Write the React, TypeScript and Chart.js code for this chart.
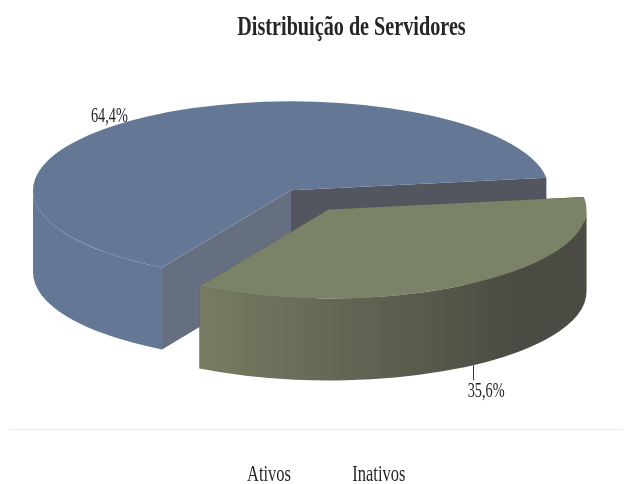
import { useEffect, useRef } from "react";
import { Chart, registerables } from "chart.js";

Chart.register(...registerables);

// Series
const categories = ["Ativos", "Inativos"];
const shares = [64.4, 35.6];
const shareLabels = ["64,4%", "35,6%"];
const chartTitle = "Distribuição de Servidores";

// Slice styling
const topColors = ["#647896", "#7a8268"];
const wallLeftColors = ["#647896", "#787c62"];
const wallRightColors = ["#647896", "#4b4a43"];
const startFaceColors = ["#656f7f", "#4b4a43"];
const endFaceColors = ["#53565f", "#4b4a43"];
const explodeDistances = [0, 67];
const labelOffsets = [
  [-37, 0],
  [13, 27],
];

// Projection of the flat pie into a tilted disc
const TILT = 0.345;
const DEPTH = 82;
const SERIF = "'Liberation Serif', serif";
const TEXT_COLOR = "#262626";
const TEXT_STRETCH = 1.4;

const explodeShift = (arc: any, index: number) => {
  const mid = (arc.startAngle + arc.endAngle) / 2;
  const d = explodeDistances[index];
  return { dx: Math.cos(mid) * d, dy: Math.sin(mid) * d * TILT };
};

const rimPoint = (arc: any, index: number, angle: number) => {
  const { dx, dy } = explodeShift(arc, index);
  return {
    x: arc.x + dx + Math.cos(angle) * arc.outerRadius,
    y: arc.y + dy + Math.sin(angle) * arc.outerRadius * TILT,
  };
};

const drawCutFace = (ctx: CanvasRenderingContext2D, arc: any, index: number, angle: number, color: string) => {
  const { dx, dy } = explodeShift(arc, index);
  const rim = rimPoint(arc, index, angle);
  ctx.beginPath();
  ctx.moveTo(arc.x + dx, arc.y + dy);
  ctx.lineTo(rim.x, rim.y);
  ctx.lineTo(rim.x, rim.y + DEPTH);
  ctx.lineTo(arc.x + dx, arc.y + dy + DEPTH);
  ctx.closePath();
  ctx.fillStyle = color;
  ctx.fill();
};

// Front-facing part of the outer wall: angles between 0 and PI (mod 2PI)
const drawOuterWall = (ctx: CanvasRenderingContext2D, arc: any, index: number) => {
  const TAU = Math.PI * 2;
  const { dx, dy } = explodeShift(arc, index);
  const cx = arc.x + dx;
  const cy = arc.y + dy;
  const rx = arc.outerRadius;
  const ry = arc.outerRadius * TILT;
  const gradient = ctx.createLinearGradient(cx - rx * 0.5, 0, cx + rx * 0.75, 0);
  gradient.addColorStop(0, wallLeftColors[index]);
  gradient.addColorStop(1, wallRightColors[index]);
  ctx.fillStyle = gradient;
  for (const turn of [0, TAU]) {
    const from = Math.max(arc.startAngle, turn);
    const to = Math.min(arc.endAngle, turn + Math.PI);
    if (to <= from) continue;
    ctx.beginPath();
    ctx.ellipse(cx, cy, rx, ry, 0, from, to);
    ctx.ellipse(cx, cy + DEPTH, rx, ry, 0, to, from, true);
    ctx.closePath();
    ctx.fill();
  }
};

const tiltedPie = {
  id: "tiltedPie",
  beforeDraw(chart: any) {
    // Title and legend are stretched vertically and moved to their slots
    const place = (box: any, shiftX: () => number, pivotY: () => number, targetY: number) => {
      if (!box || box.__placed) return;
      const draw = box.draw;
      box.__placed = true;
      box.draw = function (...args: any[]) {
        const ctx = chart.ctx;
        ctx.save();
        ctx.translate(shiftX(), targetY);
        ctx.scale(1, TEXT_STRETCH);
        ctx.translate(0, -pivotY());
        draw.apply(box, args);
        ctx.restore();
      };
    };
    const title = chart.titleBlock;
    place(
      title,
      () => 351.5 - (title.left + title.width / 2),
      () => title.top + title.height / 2,
      28,
    );
    const legend = chart.legend;
    const first = () => legend.legendHitBoxes[0];
    place(
      legend,
      () => 247 - (first().left + legend.options.labels.font.size / 2),
      () => first().top + first().height / 2,
      475,
    );
  },
  beforeDatasetDraw(chart: any, args: any) {
    const ctx = chart.ctx;
    args.meta.data.forEach((arc: any, index: number) => {
      drawCutFace(ctx, arc, index, arc.startAngle, startFaceColors[index]);
      drawCutFace(ctx, arc, index, arc.endAngle, endFaceColors[index]);
      drawOuterWall(ctx, arc, index);
      const { dx, dy } = explodeShift(arc, index);
      ctx.save();
      ctx.translate(arc.x + dx, arc.y + dy);
      ctx.scale(1, TILT);
      ctx.translate(-arc.x, -arc.y);
      arc.draw(ctx);
      ctx.restore();
    });
    return false;
  },
  afterDraw(chart: any) {
    const ctx = chart.ctx;
    const arcs = chart.getDatasetMeta(0).data;

    // Rule above the legend
    ctx.save();
    ctx.strokeStyle = "#e9e9e9";
    ctx.lineWidth = 1;
    ctx.beginPath();
    ctx.moveTo(10, 429.5);
    ctx.lineTo(622, 429.5);
    ctx.stroke();

    // Percentage labels and the leader of the front slice
    arcs.forEach((arc: any, index: number) => {
      const mid = (arc.startAngle + arc.endAngle) / 2;
      const rim = rimPoint(arc, index, mid);
      const front = Math.sin(mid) > 0;
      const anchorX = rim.x;
      const anchorY = rim.y + (front ? DEPTH : 0);
      if (front) {
        ctx.strokeStyle = "#333333";
        ctx.beginPath();
        ctx.moveTo(Math.round(anchorX) + 0.5, anchorY);
        ctx.lineTo(Math.round(anchorX) + 0.5, anchorY + 15);
        ctx.stroke();
      }
      const [ox, oy] = labelOffsets[index];
      ctx.save();
      ctx.translate(anchorX + ox, anchorY + oy);
      ctx.scale(1, TEXT_STRETCH);
      ctx.font = `14.3px ${SERIF}`;
      ctx.fillStyle = TEXT_COLOR;
      ctx.textAlign = "center";
      ctx.textBaseline = "middle";
      ctx.fillText(shareLabels[index], 0, 0);
      ctx.restore();
    });
    ctx.restore();
  },
};

export default function App() {
  const canvasRef = useRef<HTMLCanvasElement>(null);

  useEffect(() => {
    const chart = new Chart(canvasRef.current!, {
      type: "pie",
      data: {
        labels: categories,
        datasets: [
          {
            data: shares,
            backgroundColor: topColors,
            borderWidth: 0,
          },
        ],
      },
      options: {
        responsive: false,
        animation: false,
        rotation: 210,
        radius: 258,
        layout: { padding: { right: 50, bottom: 68 } },
        plugins: {
          title: {
            display: true,
            text: chartTitle,
            color: TEXT_COLOR,
            font: { family: SERIF, size: 20.2, weight: "bold" },
          },
          legend: {
            display: true,
            position: "bottom",
            labels: {
              boxWidth: 0,
              boxHeight: 0,
              padding: 53,
              color: TEXT_COLOR,
              font: { family: SERIF, size: 16.5 },
            },
          },
          tooltip: { enabled: false },
        },
      },
      plugins: [tiltedPie],
    } as any);
    return () => chart.destroy();
  }, []);

  return (
    <div style={{ position: "absolute", left: 0, top: 0, width: 632, height: 484, background: "#ffffff" }}>
      <canvas ref={canvasRef} width={632} height={484} style={{ display: "block" }} />
    </div>
  );
}
